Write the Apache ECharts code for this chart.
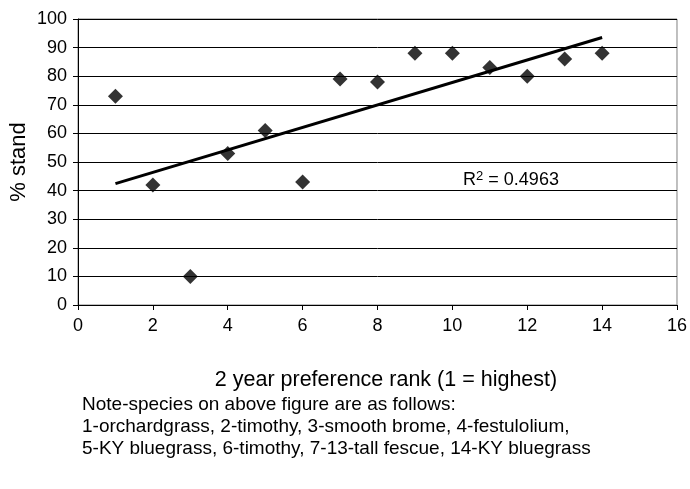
<!DOCTYPE html>
<html>
<head>
<meta charset="utf-8">
<script src="https://cdn.jsdelivr.net/npm/echarts@6/dist/echarts.min.js"></script>
<style>
html,body{margin:0;padding:0;background:#fff;}
#c{width:690px;height:489px;}
</style>
</head>
<body>
<div id="c"></div>
<script>
var ranks = [1,2,3,4,5,6,7,8,9,10,11,12,13,14];
var stand = [73,42,10,53,61,43,79,78,88,88,83,80,86,88];
var xTicks = [0,2,4,6,8,10,12,14,16];
var yTicks = [0,10,20,30,40,50,60,70,80,90,100];
var xTitle = '2 year preference rank (1 = highest)';
var yTitle = '% stand';
var noteLines = [
  'Note-species on above figure are as follows:',
  '1-orchardgrass, 2-timothy, 3-smooth brome, 4-festulolium,',
  '5-KY bluegrass, 6-timothy, 7-13-tall fescue, 14-KY bluegrass'
];

// least-squares trendline from the data
var n = ranks.length, sx=0, sy=0;
for (var i=0;i<n;i++){ sx+=ranks[i]; sy+=stand[i]; }
var mx=sx/n, my=sy/n, sxy=0, sxx=0, syy=0;
for (var i=0;i<n;i++){ sxy+=(ranks[i]-mx)*(stand[i]-my); sxx+=(ranks[i]-mx)*(ranks[i]-mx); syy+=(stand[i]-my)*(stand[i]-my);}
var slope=sxy/sxx, icpt=my-slope*mx;
var r2 = (sxy*sxy)/(sxx*syy);
var x0=Math.min.apply(null,ranks), x1=Math.max.apply(null,ranks);
var trend=[[x0,icpt+slope*x0],[x1,icpt+slope*x1]];

var pts = ranks.map(function(r,i){return [r,stand[i]];});
var FONT = 'Liberation Sans, Arial, sans-serif';

var chart = echarts.init(document.getElementById('c'), null, {renderer:'canvas'});
chart.setOption({
  animation:false,
  backgroundColor:'#ffffff',
  grid:{left:78,right:11,top:19,bottom:184,show:true,borderColor:'#808080',borderWidth:1},
  xAxis:{
    type:'value',min:xTicks[0],max:xTicks[xTicks.length-1],interval:2,
    axisLine:{show:true,onZero:false,lineStyle:{color:'#000',width:1}},
    axisTick:{show:true,length:5,lineStyle:{color:'#000'}},
    axisLabel:{color:'#000',fontSize:18,fontFamily:FONT,margin:12},
    splitLine:{show:false}
  },
  yAxis:{
    type:'value',min:yTicks[0],max:yTicks[yTicks.length-1],interval:10,
    axisLine:{show:true,onZero:false,lineStyle:{color:'#000',width:1}},
    axisTick:{show:true,length:5,lineStyle:{color:'#000'}},
    axisLabel:{color:'#000',fontSize:18,fontFamily:FONT,margin:11},
    splitLine:{show:true,lineStyle:{color:'#000',width:1}}
  },
  series:[
    {type:'line',data:trend,showSymbol:false,symbol:'none',lineStyle:{color:'#000',width:3},z:2,silent:true},
    {type:'scatter',data:pts,symbol:'diamond',symbolSize:15,itemStyle:{color:'#000'},z:3}
  ],
  graphic:[
    {type:'text',x:19,y:162,rotation:Math.PI/2,style:{text:yTitle,fill:'#000',font:'22px '+FONT,textAlign:'center',textVerticalAlign:'middle'}},
    {type:'text',x:386,y:380,style:{text:xTitle,fill:'#000',font:'21.5px '+FONT,textAlign:'center',textVerticalAlign:'middle'}},
    {type:'text',x:511,y:180,style:{
      text:'{a|R}{s|2}{a| = '+r2.toFixed(4)+'}',
      textAlign:'center',textVerticalAlign:'middle',
      rich:{a:{fontSize:18,fontFamily:FONT,color:'#000'},s:{fontSize:13,fontFamily:FONT,color:'#000',verticalAlign:'top',padding:[0,0,8,0]}}
    }},
    {type:'text',x:82,y:405,style:{text:noteLines[0],fill:'#000',font:'19px '+FONT,textAlign:'left',textVerticalAlign:'middle'}},
    {type:'text',x:82,y:427,style:{text:noteLines[1],fill:'#000',font:'19px '+FONT,textAlign:'left',textVerticalAlign:'middle'}},
    {type:'text',x:82,y:449,style:{text:noteLines[2],fill:'#000',font:'19px '+FONT,textAlign:'left',textVerticalAlign:'middle'}}
  ]
});
</script>
</body>
</html>
